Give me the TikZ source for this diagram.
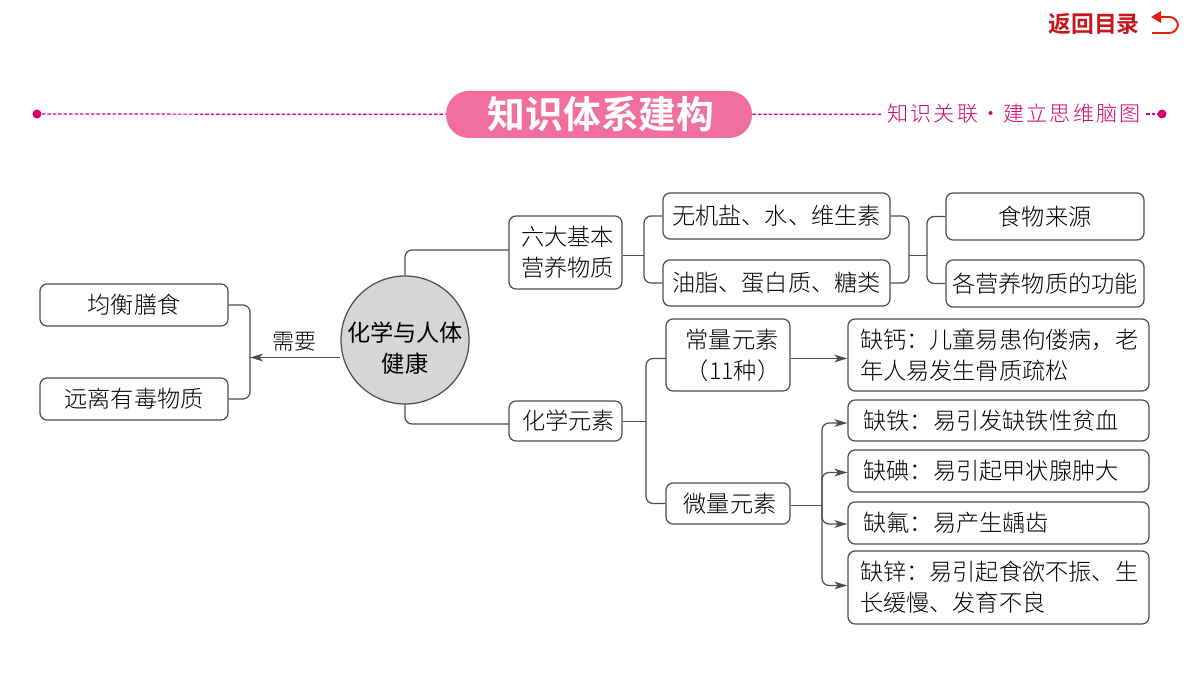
\documentclass[tikz,border=0pt]{standalone}
\usepackage{fontspec}
\setmainfont{Noto Sans CJK SC Light}[BoldFont={Noto Sans CJK SC Bold}]
\newfontfamily\cjkmedio{Noto Sans CJK SC}
\newfontfamily\cjkancho[LetterSpace=10]{Noto Sans CJK SC Light}
\usetikzlibrary{arrows.meta}
\definecolor{linea}{HTML}{4D4D4D}
\definecolor{rosa}{HTML}{F06F9F}
\definecolor{magenta}{HTML}{D6006C}
\definecolor{rojo}{HTML}{C8161D}
\definecolor{rojoIcono}{HTML}{E0200F}
\tikzset{
  caja/.style={shape=rectangle,draw=linea,line width=0.7pt,rounded corners=4pt,inner sep=0pt,align=center,font=\fontsize{13.2}{17.6}\selectfont},
  izq/.style={caja,align=left,text width=277*0.02cm},
  izqcorta/.style={caja,align=left,text width=270*0.02cm},
  une/.style={draw=linea,line width=0.7pt,rounded corners=4pt},
  flecha/.style={une,-{Stealth[length=7.4pt,width=4.4pt,inset=2pt]}},
  punto/.style={shape=circle,fill=magenta,inner sep=0pt,minimum size=9*0.02cm},
  guion/.style={draw=magenta,line width=0.7pt,dash pattern=on 2pt off 1.1pt}
}
\begin{document}
\begin{tikzpicture}[x=0.02cm,y=-0.02cm]
  \useasboundingbox (0,0) rectangle (1200,675);

  \node[text=rojo,font=\fontsize{13}{15}\selectfont\bfseries] (regreso) at (1094,24) {返回目录};
  \draw[draw=rojoIcono,line width=1.1pt,rounded corners=5pt] (1161,17) -- (1178,17) -- (1178,33) -- (1152,33);
  \fill[rojoIcono] (1151,17) -- (1161,11) -- (1161,23) -- cycle;

  \node[punto] (puntoIzq) at (37,114) {};
  \node[punto] (puntoDer) at (1162,114) {};
  \node[shape=rectangle,fill=rosa,rounded corners=0.46cm,minimum width=306*0.02cm,minimum height=47*0.02cm,inner sep=0pt,text=white,font=\fontsize{21.5}{24}\selectfont\bfseries] (titulo) at (599,114.5) {\hspace*{0.08cm}知识体系建构};
  \node[text=magenta,inner sep=3pt,font=\fontsize{12}{14}\cjkancho] (subtitulo) at (1014,114) {知识关联·建立思维脑图};
  \path [guion] (puntoIzq) -- (titulo);
  \path [guion] (titulo) -- (subtitulo);
  \path [guion] (subtitulo) -- (puntoDer);

  \node[shape=circle,draw=linea,line width=0.7pt,fill=black!16,minimum size=128*0.02cm,inner sep=-0.3cm,align=center,font=\fontsize{13.2}{17.6}\cjkmedio] (salud) at (405,340) {\rule{0pt}{0.72cm}化学与人体\\健康};
  \node[caja,minimum width=188*0.02cm,minimum height=42*0.02cm] (equilibrio) at (134,305) {均衡膳食};
  \node[caja,minimum width=188*0.02cm,minimum height=42*0.02cm] (lejos) at (134,399) {远离有毒物质};
  \node[caja,minimum width=113*0.02cm,minimum height=73*0.02cm] (seis) at (565.5,252.5) {\hspace*{0.08cm}六大基本\\\hspace*{0.08cm}营养物质};
  \node[caja,minimum width=113*0.02cm,minimum height=40*0.02cm] (elementos) at (565.5,421) {\hspace*{0.12cm}化学元素};
  \node[caja,minimum width=227*0.02cm,minimum height=46*0.02cm] (sales) at (776.5,216) {无机盐、水、维生素};
  \node[caja,minimum width=227*0.02cm,minimum height=46*0.02cm] (grasas) at (776.5,283) {油脂、蛋白质、糖类};
  \node[caja,minimum width=198*0.02cm,minimum height=47*0.02cm] (fuentes) at (1045,216.5) {食物来源};
  \node[caja,minimum width=198*0.02cm,minimum height=47*0.02cm] (funciones) at (1045,283.5) {各营养物质的功能};
  \node[caja,minimum width=124*0.02cm,minimum height=72*0.02cm] (macro) at (728,355) {\hspace*{0.16cm}常量元素\\\hspace*{0.2cm}（11种）};
  \node[caja,minimum width=124*0.02cm,minimum height=41*0.02cm] (micro) at (728,503.5) {\hspace*{0.08cm}微量元素};
  \node[izq,minimum width=301*0.02cm,minimum height=72*0.02cm] (calcio) at (998.5,355) {缺钙：儿童易患佝偻病，老\\年人易发生骨质疏松};
  \node[izqcorta,minimum width=301*0.02cm,minimum height=41*0.02cm] (hierro) at (998.5,420.5) {缺铁：易引发缺铁性贫血};
  \node[izqcorta,minimum width=301*0.02cm,minimum height=42*0.02cm] (yodo) at (998.5,471) {缺碘：易引起甲状腺肿大};
  \node[izqcorta,minimum width=301*0.02cm,minimum height=42*0.02cm] (fluor) at (998.5,523) {缺氟：易产生龋齿};
  \node[izq,minimum width=301*0.02cm,minimum height=73*0.02cm] (zinc) at (998.5,587.5) {缺锌：易引起食欲不振、生\\长缓慢、发育不良};

  \node[inner sep=1pt,font=\fontsize{12.5}{14}\selectfont] (necesita) at (294,342) {需要};

  \coordinate (cruceIzq) at (250,357.5);
  \coordinate (cruceSeis) at (644,255.5);
  \coordinate (cruceSales) at (909,255.5);
  \coordinate (cruceFuentes) at (927,255.5);
  \coordinate (cruceElem) at (646,421.5);
  \coordinate (cruceMacro) at (666,358.5);
  \coordinate (cruceMicro) at (822,505.5);
  \coordinate (entraSeis) at (509,250);
  \coordinate (entraElem) at (509,424);

  \path [une] (equilibrio.east) -| (cruceIzq) |- (lejos.east);
  \path [flecha] (salud.west |- cruceIzq) -- (cruceIzq);
  \path [une] (salud.north) |- (entraSeis);
  \path [une] (salud.south) |- (entraElem);
  \path [une] (seis.east |- cruceSeis) -- (cruceSeis);
  \path [une] (sales.west) -| (cruceSeis) |- (grasas.west);
  \path [une] (sales.east) -| (cruceSales) |- (grasas.east);
  \path [une] (cruceSales) -- (cruceFuentes);
  \path [une] (fuentes.west) -| (cruceFuentes) |- (funciones.west);
  \path [une] (elementos.east |- cruceElem) -- (cruceElem);
  \path [une] (cruceMacro) -| (cruceElem) |- (micro.west);
  \path [flecha] (macro.east |- cruceMacro) -- (calcio.west |- cruceMacro);
  \path [une] (micro.east |- cruceMicro) -- (cruceMicro);
  \path [flecha] (cruceMicro) |- ([yshift=-0.05cm]hierro.west);
  \path [flecha] (cruceMicro) |- ([yshift=-0.03cm]yodo.west);
  \path [flecha] (cruceMicro) |- ([yshift=-0.02cm]fluor.west);
  \path [flecha] (cruceMicro) |- ([yshift=0.04cm]zinc.west);
\end{tikzpicture}
\end{document}
